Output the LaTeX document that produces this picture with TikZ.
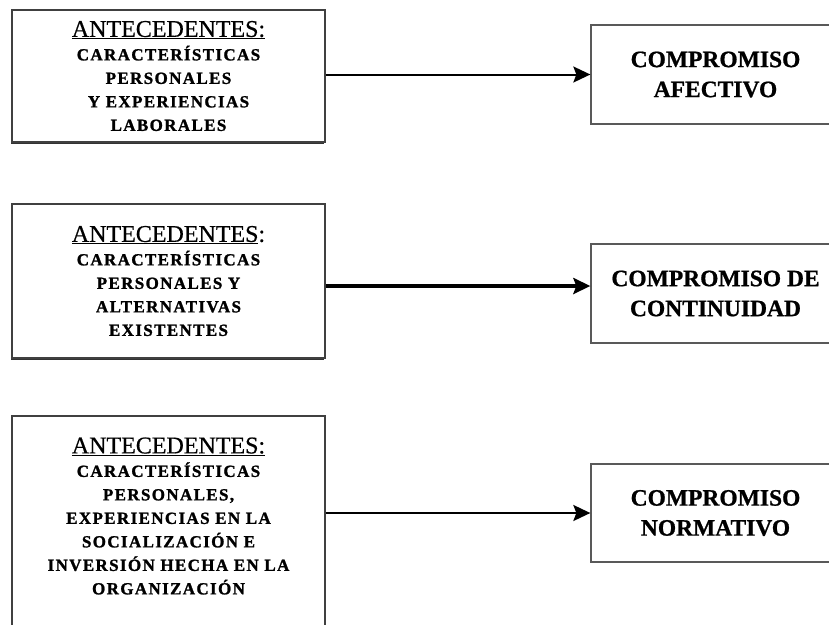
\documentclass[tikz,border=0pt]{standalone}
\usepackage{fontspec}
\setmainfont{Liberation Serif}
\newfontfamily\spacedbold[LetterSpace=8, BoldFeatures={FakeBold=1.3}]{Liberation Serif}
\newfontfamily\hdrfont[FakeBold=0.6]{Liberation Serif}
\newfontfamily\dstfont[BoldFeatures={FakeBold=0.8}]{Liberation Serif}
\usetikzlibrary{arrows.meta,shadows}

% underlined heading of each antecedent box
\newcommand{\hdr}[2]{{\hdrfont\mdseries\fontsize{24}{23.5}\selectfont\underline{#1}#2}}

\tikzset{
  srcbox/.style={draw=black!75, line width=1.3pt, fill=white,
    minimum width=313pt, inner sep=0pt,
    drop shadow={shadow xshift=-1.3pt, shadow yshift=-1.8pt, fill=black!80, opacity=1}},
  srctext/.style={align=center, inner sep=0pt,
    font=\spacedbold\bfseries\fontsize{17}{23.5}\selectfont},
  dstbox/.style={draw=black!65, line width=1.3pt, fill=white,
    minimum width=249pt, align=center, inner sep=0pt,
    font=\dstfont\bfseries\fontsize{23.5}{30}\selectfont},
  link/.style={line width=2pt, -{Stealth[length=17pt,width=16pt,inset=3pt]}},
  boldlink/.style={link, line width=3.8pt}
}

\begin{document}
\begin{tikzpicture}[x=1pt,y=-1pt]
\useasboundingbox[fill=white] (0,0) rectangle (829,624);

% antecedents
\node[srcbox, srctext, minimum height=132pt] (a1) at (168.5,76)
  {\hdr{ANTECEDENTES:}{}\\ CARACTERÍSTICAS\\ PERSONALES\\ Y EXPERIENCIAS\\ LABORALES};
\node[srcbox, srctext, minimum height=154pt] (a2) at (168.5,281)
  {\hdr{ANTECEDENTES}{:}\\ CARACTERÍSTICAS\\ PERSONALES Y\\ ALTERNATIVAS\\ EXISTENTES};
\node[srcbox, minimum height=214pt] (a3) at (168.5,523) {};
\node[srctext] (t3) at (168.5,516)
  {\hdr{ANTECEDENTES:}{}\\ CARACTERÍSTICAS\\ PERSONALES,\\ EXPERIENCIAS EN LA\\ SOCIALIZACIÓN E\\ INVERSIÓN HECHA EN LA\\ ORGANIZACIÓN};

% kinds of commitment
\node[dstbox, minimum height=99pt] (r1) at (715.5,74.5) {COMPROMISO\\ AFECTIVO};
\node[dstbox, minimum height=99pt] (r2) at (715.5,293.5) {COMPROMISO DE\\ CONTINUIDAD};
\node[dstbox, minimum height=98pt] (r3) at (715.5,513) {COMPROMISO\\ NORMATIVO};

% links
\draw[link] (a1.east |- r1.west) -- (r1.west);
\draw[boldlink] ([yshift=-5pt]a2.east) -- ([yshift=-5pt]a2.east -| r2.west);
\draw[link] (a3.east |- r3.west) -- (r3.west);
\end{tikzpicture}
\end{document}
